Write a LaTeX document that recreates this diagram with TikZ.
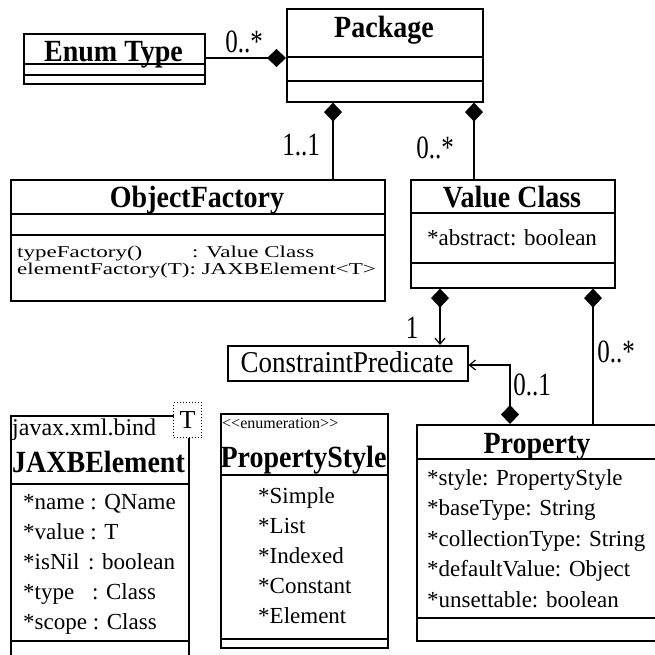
\documentclass[tikz,border=0pt]{standalone}
\usepackage{fontspec}
\setmainfont{Liberation Serif}
\usepackage{graphicx}
\usetikzlibrary{arrows.meta}
\tikzset{
  box/.style={draw, line width=1.6pt, rectangle, inner sep=0pt, anchor=north west},
  divl/.style={line width=1.6pt},
  conn/.style={line width=1.6pt},
  dia/.style={arrows={Diamond[length=19pt,width=18pt]-}},
  diaopen/.style={arrows={Diamond[length=19pt,width=18pt]-Straight Barb[length=6pt,width=10pt,line width=1.2pt]}},
  titl/.style={inner sep=0pt, anchor=base, font=\fontsize{28}{30}\selectfont\bfseries},
  titw/.style={inner sep=0pt, anchor=base west, font=\fontsize{28}{30}\selectfont\bfseries},
  attr/.style={inner sep=0pt, anchor=base west, font=\fontsize{23}{30}\selectfont},
  attrc/.style={inner sep=0pt, anchor=base, font=\fontsize{23}{30}\selectfont},
  mult/.style={inner sep=0pt, anchor=base, font=\fontsize{25}{28}\selectfont},
}
\newcommand\vst[2]{\scalebox{1}[#1]{#2}}
\begin{document}
\begin{tikzpicture}[x=1pt,y=-1pt]
\useasboundingbox (0,0) rectangle (655,654);
\clip (0,0) rectangle (655,654);

% Enum Type
\node[box, minimum width=181pt, minimum height=50pt] (enum) at (23,33) {};
\draw[divl] (enum.west |- 0,64) -- (enum.east |- 0,64);
\draw[divl] (enum.west |- 0,75) -- (enum.east |- 0,75);
\node[titl] (enumT) at (113.5,61) {\vst{1.1}{Enum Type}};

% Package
\node[box, minimum width=196pt, minimum height=93pt] (pkg) at (286,8) {};
\draw[divl] (pkg.west |- 0,57) -- (pkg.east |- 0,57);
\draw[divl] (pkg.west |- 0,81) -- (pkg.east |- 0,81);
\node[titl] (pkgT) at (384,37) {\vst{1.1}{Package}};

% ObjectFactory
\node[box, minimum width=374pt, minimum height=121pt] (of) at (10,179) {};
\draw[divl] (of.west |- 0,214) -- (of.east |- 0,214);
\draw[divl] (of.west |- 0,235) -- (of.east |- 0,235);
\node[titl] (ofT) at (197,207) {\vst{1.1}{ObjectFactory}};
\node[attr] (of1) at (17,257) {\vst{0.72}{typeFactory()}};
\node[attr] (of1b) at (192,257) {\vst{0.72}{: Value Class}};
\node[attr] (of2) at (17,274) {\vst{0.72}{elementFactory(T): JAXBElement<T>}};

% Value Class
\node[box, minimum width=204pt, minimum height=108pt] (vc) at (410,179) {};
\draw[divl] (vc.west |- 0,213) -- (vc.east |- 0,213);
\draw[divl] (vc.west |- 0,263) -- (vc.east |- 0,263);
\node[titl] (vcT) at (512,207) {\vst{1.1}{Value Class}};
\node[attrc] (vc1) at (512,245) {*abstract: boolean};

% ConstraintPredicate
\node[box, minimum width=240pt, minimum height=35pt] (cp) at (227,345) {};
\node[inner sep=0pt, anchor=base, font=\fontsize{27}{30}\selectfont] (cpT) at (347,372) {\vst{1.12}{ConstraintPredicate}};

% JAXBElement
\node[box, minimum width=178pt, minimum height=260pt] (jx) at (10,415) {};
\draw[divl] (jx.west |- 0,484) -- (jx.east |- 0,484);
\draw[divl] (jx.west |- 0,641) -- (jx.east |- 0,641);
\node[inner sep=0pt, anchor=base west, font=\fontsize{24}{28}\selectfont] (jxP) at (12,435) {javax.xml.bind};
\node[titw] (jxT) at (12,472) {\vst{1.1}{JAXBElement}};
\node[draw, dotted, line width=1pt, fill=white, inner sep=0pt, anchor=north west,
      minimum width=28pt, minimum height=35pt, font=\fontsize{26}{28}\selectfont] (jxG) at (173,402) {T};
\node[attr] (jx1) at (23,509) {*name : QName};
\node[attr] (jx2) at (23,539) {*value : T};
\node[attr] (jx3) at (23,569) {*isNil\hspace{3pt} : boolean};
\node[attr] (jx4) at (23,599) {*type\hspace{12pt} : Class};
\node[attr] (jx5) at (23,629) {*scope : Class};

% PropertyStyle
\node[box, minimum width=167pt, minimum height=234pt] (ps) at (220,413) {};
\draw[divl] (ps.west |- 0,475) -- (ps.east |- 0,475);
\draw[divl] (ps.west |- 0,639) -- (ps.east |- 0,639);
\node[inner sep=0pt, anchor=base west, font=\fontsize{16}{18}\selectfont] (psS) at (222,428) {<\kern0pt<enumeration>\kern0pt>};
\node[titl] (psT) at (303.5,467) {\vst{1.1}{PropertyStyle}};
\node[attr] (ps1) at (258,503) {*Simple};
\node[attr] (ps2) at (258,533) {*List};
\node[attr] (ps3) at (258,563) {*Indexed};
\node[attr] (ps4) at (258,593) {*Constant};
\node[attr] (ps5) at (258,623) {*Element};

% Property
\node[box, minimum width=260pt, minimum height=216pt] (pr) at (416,424) {};
\draw[divl] (pr.west |- 0,459) -- (pr.east |- 0,459);
\draw[divl] (pr.west |- 0,618) -- (pr.east |- 0,618);
\node[titl] (prT) at (537,453) {\vst{1.1}{Property}};
\node[attr] (pr1) at (427,485) {*style: PropertyStyle};
\node[attr] (pr2) at (427,515.5) {*baseType: String};
\node[attr] (pr3) at (427,546) {*collectionType: String};
\node[attr] (pr4) at (427,576.5) {*defaultValue: Object};
\node[attr] (pr5) at (427,607) {*unsettable: boolean};

% connectors
\coordinate (ep) at (0,58);
\coordinate (pA) at (333,0);
\coordinate (pB) at (474,0);
\coordinate (vA) at (440,0);
\coordinate (vB) at (593,0);
\coordinate (cB) at (510,365);
\draw[conn, arrows={-Diamond[length=19pt,width=18pt]}] (enum.east |- ep) -- (pkg.west |- ep);
\draw[conn, dia] (pkg.south -| pA) -- (of.north -| pA);
\draw[conn, dia] (pkg.south -| pB) -- (vc.north -| pB);
\draw[conn, diaopen] (vc.south -| vA) -- (cp.north -| vA);
\draw[conn, dia] (vc.south -| vB) -- (pr.north -| vB);
\draw[conn, diaopen] (pr.north -| cB) -- (cB) -- (cp.east |- cB);

% multiplicities
\node[mult] (m1) at (244,52) {\vst{1.3}{0..*}};
\node[mult] (m2) at (301,155) {\vst{1.3}{1..1}};
\node[mult] (m3) at (435,158) {\vst{1.3}{0..*}};
\node[mult] (m4) at (412,338) {\vst{1.3}{1}};
\node[mult] (m5) at (616,362) {\vst{1.3}{0..*}};
\node[mult] (m6) at (532,395) {\vst{1.3}{0..1}};
\end{tikzpicture}
\end{document}
